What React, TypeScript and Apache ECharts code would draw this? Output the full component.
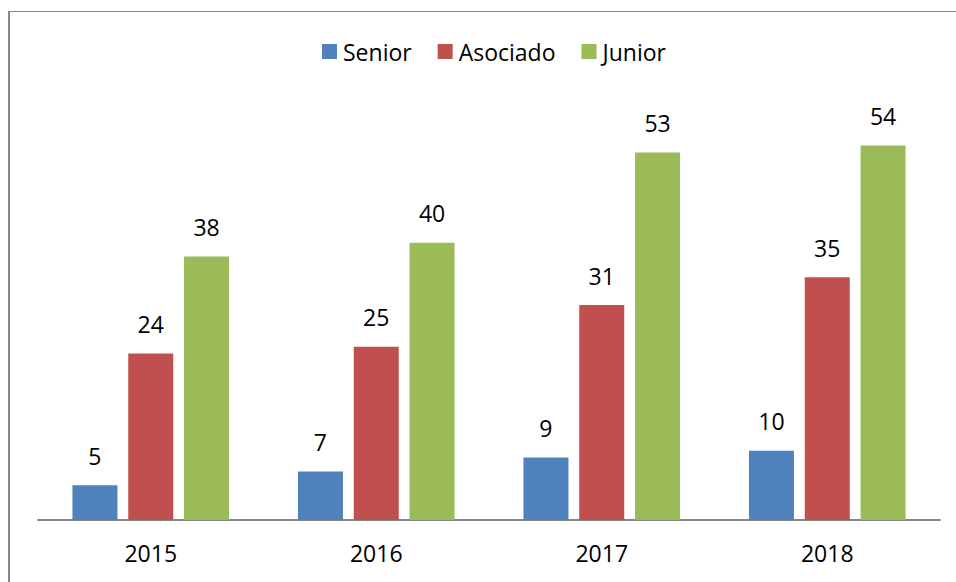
import React, { useEffect, useRef } from "react";
import * as echarts from "echarts";

const categories = ["2015", "2016", "2017", "2018"];
const seriesNames = ["Senior", "Asociado", "Junior"];
const senior = [5, 7, 9, 10];
const asociado = [24, 25, 31, 35];
const junior = [38, 40, 53, 54];
const colors = ["#4F81BD", "#C0504D", "#9BBB59"];

export default function App() {
  const ref = useRef<HTMLDivElement>(null);
  useEffect(() => {
    if (!ref.current) return;
    const chart = echarts.init(ref.current, null, { renderer: "svg" });
    const font = "'Open Sans', 'Liberation Sans', sans-serif";
    const data = [senior, asociado, junior];
    chart.setOption({
      animation: false,
      backgroundColor: "#ffffff",
      textStyle: { fontFamily: font },
      legend: {
        data: seriesNames,
        top: 40,
        left: 322,
        padding: 0,
        itemWidth: 15,
        itemHeight: 15,
        itemGap: 26,
        icon: "rect",
        textStyle: { fontSize: 23, color: "#000", fontFamily: font, padding: [0, 0, 0, 1] },
      },
      grid: { left: 38, right: 16, top: 104, bottom: 62, containLabel: false },
      xAxis: {
        type: "category",
        data: categories,
        axisLine: { show: true, lineStyle: { color: "#868686", width: 2 } },
        axisTick: { show: false },
        axisLabel: { fontSize: 23, color: "#000", margin: 21, fontFamily: font },
      },
      yAxis: {
        type: "value",
        min: 0,
        max: 60,
        show: false,
        splitLine: { show: false },
      },
      graphic: [
        { type: "line", shape: { x1: 9, y1: 11.5, x2: 956, y2: 11.5 }, style: { stroke: "#868686", lineWidth: 1 } },
        { type: "line", shape: { x1: 9, y1: 11, x2: 9, y2: 582 }, style: { stroke: "#868686", lineWidth: 2 } },
      ],
      series: seriesNames.map((name, i) => ({
        name,
        type: "bar",
        data: data[i],
        barWidth: 45,
        barGap: "24%",
        itemStyle: { color: colors[i] },
        label: {
          show: true,
          position: "top",
          distance: 18,
          fontSize: 23,
          color: "#000",
          fontFamily: font,
        },
      })),
    });
    return () => chart.dispose();
  }, []);
  return (
    <div
      ref={ref}
      style={{ position: "absolute", left: 0, top: 0, width: 956, height: 582 }}
    />
  );
}
